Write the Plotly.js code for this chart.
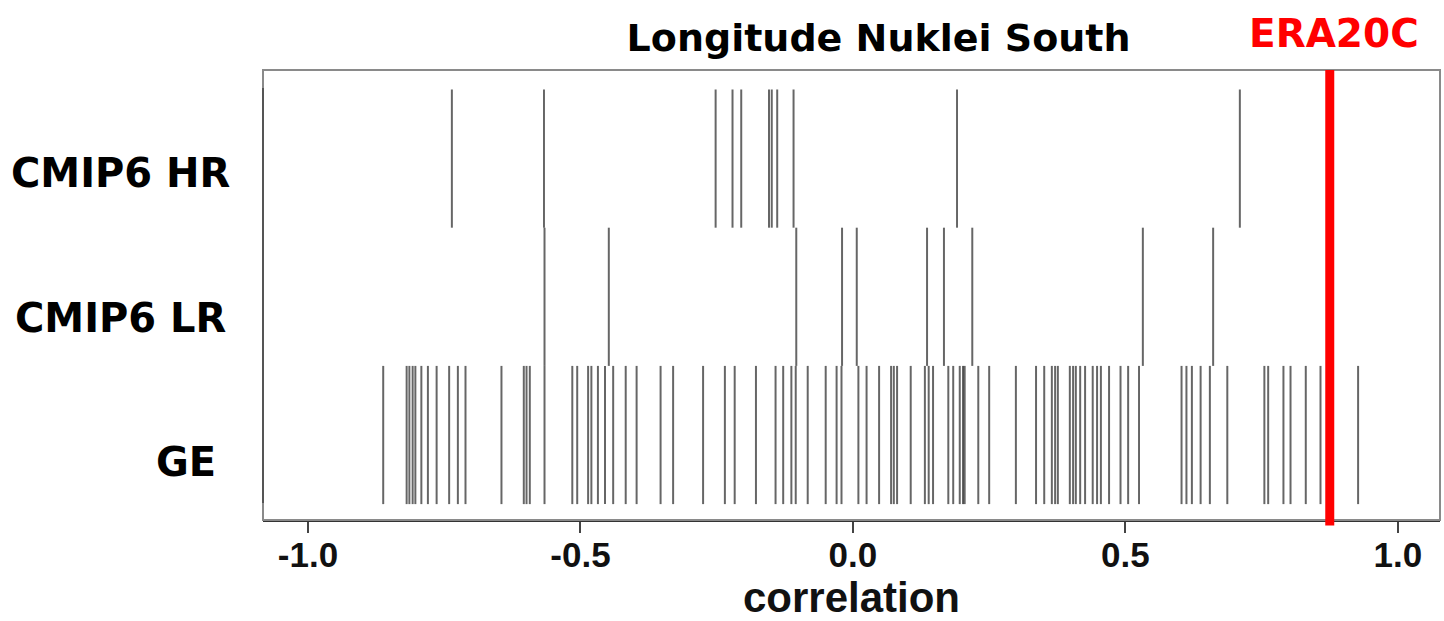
<!DOCTYPE html>
<html>
<head>
<meta charset="utf-8">
<script src="https://cdn.plot.ly/plotly-3.0.1.min.js"></script>
<style>html,body{margin:0;padding:0;background:#fff;}#chart{width:1444px;height:621px;}</style>
</head>
<body>
<div id="chart"></div>
<script>
// Row categories (bottom to top)
const categories = ["GE", "CMIP6 LR", "CMIP6 HR"];
const rowLabels = ["GE ", "CMIP6 LR", "CMIP6 HR"];

// Correlation values per ensemble
const hrValues = [-0.736, -0.567, -0.252, -0.221, -0.205, -0.154, -0.149, -0.139, -0.109, 0.191, 0.710];
const lrValues = [-0.566, -0.448, -0.104, -0.020, 0.007, 0.136, 0.167, 0.219, 0.532, 0.661];
const geValues = [
  -0.862, -0.819, -0.814, -0.808, -0.803, -0.792, -0.780, -0.764, -0.741, -0.725, -0.711,
  -0.645, -0.604, -0.599, -0.593, -0.566, -0.515, -0.506, -0.486, -0.480, -0.468, -0.455,
  -0.440, -0.417, -0.397, -0.353, -0.330, -0.275, -0.235, -0.217, -0.178, -0.142, -0.128,
  -0.113, -0.105, -0.083, -0.050, -0.030, -0.021, 0.010, 0.025, 0.048, 0.070, 0.075, 0.081,
  0.106, 0.132, 0.139, 0.147, 0.175, 0.184, 0.196, 0.202, 0.205, 0.230, 0.250, 0.299,
  0.336, 0.351, 0.365, 0.371, 0.376, 0.398, 0.404, 0.409, 0.417, 0.426, 0.440, 0.448,
  0.455, 0.470, 0.491, 0.505, 0.525, 0.603, 0.612, 0.622, 0.638, 0.655, 0.687, 0.755,
  0.762, 0.790, 0.803, 0.831, 0.858, 0.927
];
const era20c = 0.875;

const tickVals = [-1, -0.5, 0, 0.5, 1];
const tickText = ["-1.0", "-0.5", "0.0", "0.5", "1.0"];

function strip(values, row) {
  const x = [], y = [];
  values.forEach(v => { x.push(v, v, null); y.push(row - 0.5, row + 0.5, null); });
  return {
    x: x, y: y, type: "scatter", mode: "lines", hoverinfo: "skip", showlegend: false,
    line: { color: "rgba(0,0,0,0.6)", width: 2 }
  };
}

const seriesList = [geValues, lrValues, hrValues];
const traces = seriesList.map((vals, i) => strip(vals, i + 1));

const labelFont = { family: "DejaVu Sans", size: 40, color: "#000", weight: "bold" };

const annotations = [
  { text: rowLabels[2], xref: "paper", yref: "paper", x: -0.026, y: 0.771, xanchor: "right", yanchor: "middle", showarrow: false, font: labelFont },
  { text: rowLabels[1], xref: "paper", yref: "paper", x: -0.030, y: 0.449, xanchor: "right", yanchor: "middle", showarrow: false, font: labelFont },
  { text: rowLabels[0], xref: "paper", yref: "paper", x: -0.026, y: 0.129, xanchor: "right", yanchor: "middle", showarrow: false, font: labelFont },
  { text: "ERA20C", xref: "x", yref: "paper", x: era20c, xshift: 4, y: 1.082, xanchor: "center", yanchor: "middle", showarrow: false,
    font: { family: "DejaVu Sans", size: 39, color: "#ff0000", weight: "bold" } }
];

const layout = {
  width: 1444, height: 621,
  margin: { l: 263, r: 4, t: 70, b: 101 },
  paper_bgcolor: "#fff", plot_bgcolor: "#fff",
  title: { text: "Longitude Nuklei South", font: { family: "DejaVu Sans", size: 38, color: "#000", weight: "bold" },
           x: 0.523, xref: "paper", y: 0.94, yref: "container", xanchor: "center", yanchor: "middle" },
  xaxis: {
    range: [-1.0826, 1.0773], tickvals: tickVals, ticktext: tickText,
    ticks: "outside", ticklen: 11, tickwidth: 2, tickcolor: "#444",
    ticklabelstandoff: -8,
    showgrid: false, zeroline: false, showline: true, linecolor: "#333", linewidth: 2,
    tickfont: { family: "Liberation Sans", size: 35, color: "#111", weight: "bold" },
    title: { text: "correlation", font: { family: "Liberation Sans", size: 42, color: "#111", weight: "bold" }, standoff: 12 }
  },
  yaxis: {
    range: [0.385, 3.641], showticklabels: false, showgrid: false, zeroline: false, showline: false, ticks: ""
  },
  shapes: [
    { type: "rect", xref: "paper", yref: "paper", x0: 0, x1: 1, y0: 0, y1: 1, line: { color: "#8a8a8a", width: 2 }, layer: "above" },
    { type: "line", xref: "paper", yref: "paper", x0: 0, x1: 0, y0: 0.038, y1: 0.96, line: { color: "#555", width: 2 }, layer: "above" },
    { type: "line", xref: "x", yref: "paper", x0: era20c, x1: era20c, y0: -0.012, y1: 1, line: { color: "#ff0000", width: 9 }, layer: "above" }
  ],
  annotations: annotations
};

Plotly.newPlot("chart", traces, layout, { displayModeBar: false, staticPlot: true });
</script>
</body>
</html>
